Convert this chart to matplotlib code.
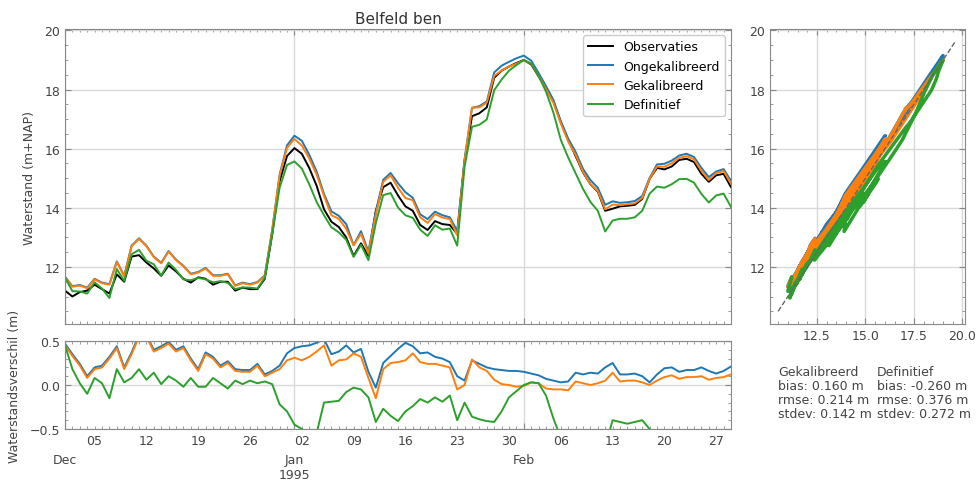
import matplotlib
matplotlib.use('Agg')
import matplotlib.pyplot as plt
import matplotlib.dates as mdates
from matplotlib.ticker import FixedLocator, FuncFormatter, MultipleLocator
import numpy as np
import pandas as pd

## Data (daily values, Dec 1 1994 .. Mar 1 1995)
start_datum = '1994-12-01'

observaties = [
    11.2, 11.0, 11.15, 11.2, 11.4, 11.25, 11.1, 11.75, 11.5, 12.35,
    12.4, 12.15, 11.95, 11.7, 12.05, 11.85, 11.6, 11.47, 11.65, 11.6,
    11.4, 11.5, 11.5, 11.2, 11.3, 11.25, 11.25, 11.6, 13.1, 14.9,
    15.75, 16.02, 15.83, 15.35, 14.75, 13.95, 13.53, 13.35, 13.0, 12.37,
    12.8, 12.37, 13.9, 14.7, 14.85, 14.42, 14.05, 13.9, 13.42, 13.25,
    13.55, 13.45, 13.42, 13.12, 15.6, 17.1, 17.2, 17.4, 18.4, 18.64,
    18.78, 18.9, 19.0, 18.85, 18.45, 18.05, 17.6, 16.9, 16.3, 15.75,
    15.2, 14.8, 14.55, 13.9, 13.97, 14.05, 14.07, 14.1, 14.3, 14.98,
    15.35, 15.3, 15.4, 15.62, 15.66, 15.55, 15.15, 14.88, 15.1, 15.15,
    14.7,
]

# model minus observation (m)
verschil_ongekalibreerd = [
    0.47, 0.35, 0.24, 0.10, 0.20, 0.22, 0.32, 0.44, 0.20, 0.37,
    0.57, 0.57, 0.40, 0.44, 0.49, 0.40, 0.44, 0.30, 0.18, 0.37,
    0.32, 0.22, 0.27, 0.18, 0.17, 0.17, 0.24, 0.12, 0.16, 0.22,
    0.36,
    0.42, 0.44, 0.45, 0.48, 0.52, 0.35, 0.38, 0.45, 0.37, 0.41,
    0.15, -0.03, 0.25, 0.33, 0.41, 0.48, 0.44, 0.36, 0.37, 0.32,
    0.30, 0.26, 0.10, 0.05, 0.28, 0.24, 0.20, 0.18, 0.17, 0.16,
    0.16, 0.15, 0.13, 0.11, 0.07, 0.05, 0.03, 0.04, 0.14, 0.12,
    0.14, 0.13, 0.20, 0.25, 0.12, 0.12, 0.13, 0.10, 0.03, 0.12,
    0.19, 0.20, 0.15, 0.17, 0.17, 0.20, 0.16, 0.13, 0.16, 0.21,
]
verschil_gekalibreerd = [
    0.45, 0.33, 0.22, 0.08, 0.18, 0.20, 0.30, 0.42, 0.18, 0.35,
    0.55, 0.55, 0.38, 0.42, 0.47, 0.38, 0.42, 0.28, 0.16, 0.35,
    0.30, 0.20, 0.25, 0.16, 0.15, 0.15, 0.22, 0.10, 0.14, 0.18,
    0.28,
    0.31, 0.28, 0.32, 0.38, 0.45, 0.22, 0.28, 0.29, 0.36, 0.32,
    0.08, -0.15, 0.18, 0.25, 0.26, 0.28, 0.36, 0.26, 0.24, 0.24,
    0.22, 0.20, -0.05, 0.00, 0.29, 0.20, 0.16, 0.06, 0.01, 0.00,
    -0.02, -0.01, 0.03, 0.02, -0.04, -0.05, -0.05, -0.06, 0.04, 0.02,
    0.00, 0.02, 0.05, 0.14, 0.04, 0.05, 0.05, 0.03, 0.00, 0.05,
    0.09, 0.11, 0.07, 0.09, 0.09, 0.10, 0.06, 0.08, 0.09, 0.12,
]
verschil_definitief = [
    0.45, 0.18, 0.02, -0.10, 0.08, 0.02, -0.15, 0.18, 0.03, 0.08,
    0.18, 0.06, 0.14, 0.01, 0.10, 0.05, -0.02, 0.08, -0.02, -0.02,
    0.08, 0.02, -0.04, 0.05, 0.01, 0.05, 0.02, 0.04, 0.01, -0.22,
    -0.30,
    -0.45, -0.50, -0.55, -0.55, -0.20, -0.19, -0.18, -0.08, -0.03, -0.05,
    -0.14, -0.42, -0.27, -0.35, -0.41, -0.30, -0.24, -0.16, -0.20, -0.14,
    -0.19, -0.12, -0.40, -0.20, -0.36, -0.39, -0.41, -0.42, -0.30, -0.14,
    -0.07, 0.00, 0.03, 0.02, -0.12, -0.38, -0.60, -0.60, -0.58, -0.56,
    -0.60, -0.65, -0.70, -0.40, -0.42, -0.44, -0.42, -0.40, -0.50, -0.63,
    -0.62, -0.60, -0.65, -0.68, -0.70, -0.68, -0.70, -0.68, -0.67, -0.67,
]

stats_gekalibreerd = 'Gekalibreerd\nbias: 0.160 m\nrmse: 0.214 m\nstdev: 0.142 m'
stats_definitief = 'Definitief\nbias: -0.260 m\nrmse: 0.376 m\nstdev: 0.272 m'

maand_ticks = ['1994-12-01', '1995-01-01', '1995-02-01']
maand_labels = ['Dec', 'Jan\n1995', 'Feb']

## Derived series
tijd = pd.date_range(start_datum, periods=len(observaties), freq='D')
obs = np.array(observaties)
d_ongekal = np.array(verschil_ongekalibreerd)
d_gekal = np.array(verschil_gekalibreerd)
d_def = np.array(verschil_definitief)
ongekal = obs + d_ongekal
gekal = obs + d_gekal
definitief = obs + d_def

C_OBS, C_ONG, C_GEK, C_DEF = 'black', '#1f77b4', '#ff7f0e', '#2ca02c'
TXT = '#444444'
SPINE = '#888888'
GRID = '#d9d9d9'

plt.rcParams['font.family'] = ['DejaVu Sans']
plt.rcParams['font.size'] = 9

W, H = 977, 485


def px_axes(fig, left, top, right, bottom):
    return fig.add_axes([left / W, 1 - bottom / H, (right - left) / W, (bottom - top) / H])


def style(ax):
    for s in ax.spines.values():
        s.set_color(SPINE)
    ax.tick_params(which='both', direction='in', top=True, right=True,
                   colors=SPINE, labelcolor=TXT, labelsize=9)
    ax.tick_params(which='major', length=4)
    ax.tick_params(which='minor', length=2)
    ax.grid(True, which='major', color=GRID, lw=1)
    ax.set_axisbelow(True)


def day_label(x, pos):
    d = mdates.num2date(x)
    return d.strftime('%d') if d.weekday() == 0 else ''


fig = plt.figure(figsize=(W / 100, H / 100), dpi=100)
ax_main = px_axes(fig, 65, 30, 731, 325)
ax_diff = px_axes(fig, 65, 342, 731, 430)
ax_sc = px_axes(fig, 770, 30, 965, 325)

## Main time series
ax_main.plot(tijd, obs, color=C_OBS, lw=1.4, label='Observaties')
ax_main.plot(tijd, ongekal, color=C_ONG, lw=1.4, label='Ongekalibreerd')
ax_main.plot(tijd, gekal, color=C_GEK, lw=1.4, label='Gekalibreerd')
ax_main.plot(tijd, definitief, color=C_DEF, lw=1.4, label='Definitief')
ax_main.set_ylim(10.07, 20.05)
ax_main.yaxis.set_major_locator(MultipleLocator(2))
ax_main.yaxis.set_minor_locator(MultipleLocator(0.5))
ax_main.set_title('Belfeld ben', fontsize=11, color='#333333', pad=4)
ax_main.legend(loc='upper right', fontsize=9, framealpha=1, edgecolor='#cccccc')

## Differences
ax_diff.plot(tijd, d_ongekal, color=C_ONG, lw=1.4)
ax_diff.plot(tijd, d_gekal, color=C_GEK, lw=1.4)
ax_diff.plot(tijd, d_def, color=C_DEF, lw=1.4)
ax_diff.set_ylim(-0.5, 0.5)
ax_diff.yaxis.set_major_locator(MultipleLocator(0.5))
ax_diff.yaxis.set_minor_locator(MultipleLocator(0.1))

for ax in (ax_main, ax_diff):
    style(ax)
    ax.set_xlim(tijd[0], tijd[-1])
    ax.xaxis.set_major_locator(FixedLocator(mdates.date2num(pd.to_datetime(maand_ticks))))
    ax.xaxis.set_minor_locator(mdates.DayLocator())
    ax.xaxis.set_minor_formatter(FuncFormatter(day_label))
    ax.xaxis.set_major_formatter(FuncFormatter(lambda x, pos: maand_labels[pos] if pos is not None and pos < len(maand_labels) else ''))
    ax.tick_params(axis='x', which='major', pad=17)

ax_main.tick_params(axis='x', which='both', labelbottom=False)

fig.text(30 / W, 1 - 178 / H, 'Waterstand (m+NAP)', rotation=90, ha='center', va='center',
         color=TXT, fontsize=9)
fig.text(15 / W, 1 - 386 / H, 'Waterstandsverschil (m)', rotation=90, ha='center', va='center',
         color=TXT, fontsize=9)

## Scatter obs vs model
ax_sc.plot(obs, ongekal, color=C_ONG, lw=2.5, solid_capstyle='round')
ax_sc.plot(obs, gekal, color=C_GEK, lw=2.5, solid_capstyle='round')
ax_sc.plot(obs, definitief, color=C_DEF, lw=2.5, solid_capstyle='round')
lijn = [obs.min() - 0.5, obs.max() + 0.6]
ax_sc.plot(lijn, lijn, color='#666666', ls='--', lw=1)
ax_sc.set_xlim(10.08, 20.13)
ax_sc.set_ylim(10.07, 20.05)
ax_sc.xaxis.set_major_locator(MultipleLocator(2.5))
ax_sc.xaxis.set_minor_locator(MultipleLocator(0.5))
ax_sc.yaxis.set_major_locator(MultipleLocator(2))
ax_sc.yaxis.set_minor_locator(MultipleLocator(0.5))
style(ax_sc)

fig.text(778 / W, 1 - 366 / H, stats_gekalibreerd, ha='left', va='top', color=TXT,
         fontsize=9, linespacing=1.1)
fig.text(877 / W, 1 - 366 / H, stats_definitief, ha='left', va='top', color=TXT,
         fontsize=9, linespacing=1.1)

fig.savefig('out.png', dpi=100)
